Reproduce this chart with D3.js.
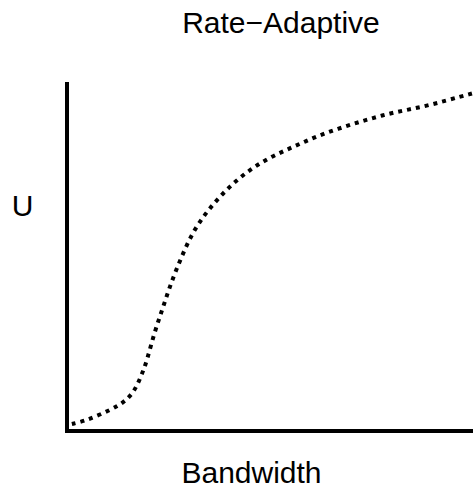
<!DOCTYPE html>
<html>
<head>
<meta charset="utf-8">
<script src="https://cdn.jsdelivr.net/npm/d3@7"></script>
<style>
  html, body { margin: 0; padding: 0; background: #fff; }
  svg { display: block; }
  text { font-family: "Liberation Sans", Arial, sans-serif; fill: #000; }
</style>
</head>
<body>
<svg id="chart" width="473" height="488"></svg>
<script>
const title = "Rate\u2212Adaptive";
const xLabel = "Bandwidth";
const yLabel = "U";
const bandwidth = [0.012,0.044,0.086,0.126,0.145,0.165,0.182,0.197,0.214,0.236,0.256,0.281,0.308,0.345,0.389,0.438,0.495,0.557,0.616,0.680,0.744,0.808,0.874,0.938,1.0];
const utility   = [0.020,0.029,0.049,0.072,0.088,0.112,0.155,0.201,0.278,0.352,0.424,0.496,0.567,0.630,0.688,0.739,0.782,0.814,0.845,0.871,0.894,0.914,0.928,0.948,0.968];

const svg = d3.select("#chart");
const x = d3.scaleLinear().domain([0, 1]).range([67, 473]);
const y = d3.scaleLinear().domain([0, 1]).range([431, 82]);

// axes as plain lines (no ticks)
svg.append("line")
  .attr("x1", x(0)).attr("x2", x(0))
  .attr("y1", y(1)).attr("y2", y(0) + 2)
  .attr("stroke", "#000").attr("stroke-width", 4);
svg.append("line")
  .attr("x1", x(0) - 2).attr("x2", x(1))
  .attr("y1", y(0)).attr("y2", y(0))
  .attr("stroke", "#000").attr("stroke-width", 4);

const pts = bandwidth.map((b, i) => [b, utility[i]]);
const line = d3.line().x(d => x(d[0])).y(d => y(d[1])).curve(d3.curveBasis);
svg.append("path")
  .attr("d", line(pts))
  .attr("fill", "none")
  .attr("stroke", "#000")
  .attr("stroke-width", 4)
  .attr("stroke-dasharray", "4 5");

svg.append("text").attr("x", 281).attr("y", 33)
  .attr("text-anchor", "middle").attr("font-size", 30).text(title);
svg.append("text").attr("x", 251.5).attr("y", 483)
  .attr("text-anchor", "middle").attr("font-size", 30).text(xLabel);
svg.append("text").attr("x", 22.5).attr("y", 216)
  .attr("text-anchor", "middle").attr("font-size", 30).text(yLabel);
</script>
</body>
</html>
